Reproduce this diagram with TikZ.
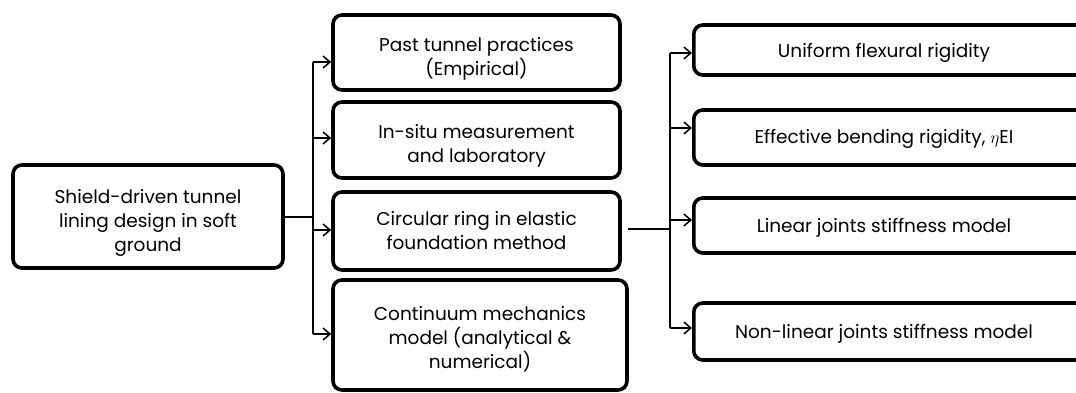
\documentclass[tikz,border=0pt]{standalone}
\usepackage{fontspec}
\setmainfont{Poppins}
\usetikzlibrary{arrows.meta}
\begin{document}
\begin{tikzpicture}[x=1pt,y=-1pt,
  box/.style={draw, line width=3.6pt, rounded corners=9pt, inner sep=0pt},
  txt/.style={align=center, font=\fontsize{18.5}{24}\selectfont, inner sep=0pt},
  conn/.style={line width=1.4pt},
  arr/.style={conn, -{Straight Barb[length=7pt,width=12pt,line width=1.5pt]}}]
\useasboundingbox (0,0) rectangle (1076,393);
\clip (0,0) rectangle (1076,393);
% left box
\node[box, minimum width=270pt, minimum height=103pt] (L) at (148,216.5) {};
\node[txt] (Lt) at (148,223) {Shield-driven tunnel\\lining design in soft\\ground};
% middle column
\node[box, minimum width=287pt, minimum height=75pt] (M1) at (476.5,52.5) {};
\node[txt] (M1t) at (476.5,59) {Past tunnel practices\\(Empirical)};
\node[box, minimum width=287pt, minimum height=76pt] (M2) at (476.5,140) {};
\node[txt] (M2t) at (476.5,146) {In-situ measurement\\and laboratory};
\node[box, minimum width=287pt, minimum height=78pt] (M3) at (476.5,231) {};
\node[txt] (M3t) at (476.5,231) {Circular ring in elastic\\foundation method};
\node[box, minimum width=294pt, minimum height=110pt] (M4) at (480,335) {};
\node[txt] (M4t) at (480,339) {Continuum mechanics\\model (analytical \&\\numerical)};
% right column
\node[box, minimum width=408pt, minimum height=50pt, anchor=west] (R1) at (692,50) {};
\node[txt] (R1t) at (884,53) {Uniform flexural rigidity};
\node[box, minimum width=408pt, minimum height=55pt, anchor=west] (R2) at (692,137.5) {};
\node[txt] (R2t) at (884,139) {Effective bending rigidity, $\eta$EI};
\node[box, minimum width=408pt, minimum height=55pt, anchor=west] (R3) at (692,225.5) {};
\node[txt] (R3t) at (884,228) {Linear joints stiffness model};
\node[box, minimum width=408pt, minimum height=57pt, anchor=west] (R4) at (692,331.5) {};
\node[txt] (R4t) at (884,334) {Non-linear joints stiffness model};
% connectors, left trunk
\coordinate (tA) at (313,217);
\coordinate (t1) at (313,62);
\coordinate (t2) at (313,138);
\coordinate (t3) at (313,230);
\coordinate (t4) at (313,334);
\draw[conn] (L.east |- tA) -- (tA);
\draw[conn] (t1) -- (t4);
\draw[arr] (t1) -- (M1.west |- t1);
\draw[arr] (t2) -- (M2.west |- t2);
\draw[arr] (t3) -- (M3.west |- t3);
\draw[arr] (t4) -- (M4.west |- t4);
% right trunk
\coordinate (sA) at (670,229);
\coordinate (s1) at (670,53);
\coordinate (s2) at (670,128);
\coordinate (s3) at (670,220);
\coordinate (s4) at (670,328);
\draw[conn] ([xshift=6pt]M3.east |- sA) -- (sA);
\draw[conn] (s1) -- (s4);
\draw[arr] (s1) -- (R1.west |- s1);
\draw[arr] (s2) -- (R2.west |- s2);
\draw[arr] (s3) -- (R3.west |- s3);
\draw[arr] (s4) -- (R4.west |- s4);
\end{tikzpicture}
\end{document}
